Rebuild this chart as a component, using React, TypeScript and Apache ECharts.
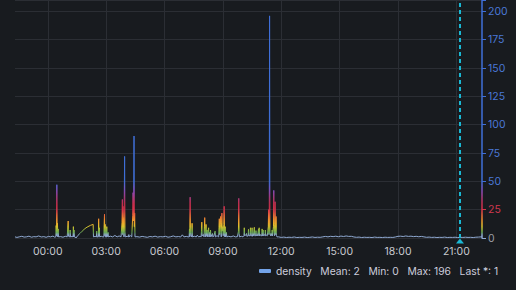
import React, { useEffect, useRef } from "react";
import * as echarts from "echarts";

// [minutes from midnight, density]
const nightSamples: [number, number][] = [
  [-101, 1], [-95, 0.5], [-88, 1], [-80, 1.5], [-73, 0.8], [-66, 1], [-58, 1.6], [-50, 0.7],
  [-43, 1.2], [-36, 1], [-28, 1.8], [-20, 0.9], [-12, 1.2], [-5, 0.6], [2, 1.4], [9, 1],
  [16, 1.7], [21, 0.8],
  [25, 1], [26, 11], [27, 2], [28, 47], [29, 4], [30, 13], [31, 1], [32, 8], [33, 1],
  [40, 1.2], [47, 0.7], [54, 1.5], [60, 1],
  [62, 1], [63, 15], [64, 1.5], [68, 1], [69, 7], [70, 1], [75, 1.3], [78, 1], [79, 10], [80, 1],
  [81, 7], [82, 1], [85, 0.8],
  [87, 0], [93, 2.3], [100, 4.2], [106, 6], [112, 7.6], [118, 9], [124, 10], [132, 11.2], [140, 12], [141, 1],
  [146, 1.4], [150, 1], [151, 6], [152, 1], [156, 1], [157, 17], [158, 2], [159, 9], [160, 1],
  [165, 1.5], [170, 1], [173, 1], [174, 12], [175, 21], [176, 2], [177, 12], [178, 1], [181, 1],
  [182, 10], [183, 1], [185, 1], [186, 5], [187, 1],
  [193, 1.6], [200, 1], [207, 2.2], [214, 1], [220, 1.8], [226, 1],
];

const earlyMorningSamples: [number, number][] = [
  [228, 1], [229, 14], [230, 34], [231, 3], [232, 28], [233, 5], [234, 18], [235, 1], [236, 1],
  [237, 72], [238, 6], [239, 1],
  [245, 1.5], [249, 1], [250, 3], [251, 1], [255, 2], [259, 1],
  [261, 1], [262, 20], [263, 40], [264, 15], [265, 38], [266, 90], [267, 10], [268, 22], [269, 1],
  [275, 1.2], [283, 0.8], [291, 1.4], [299, 1], [307, 0.6], [315, 1.3], [323, 1], [331, 1.6],
  [339, 0.8], [347, 1.2], [355, 1], [363, 1.5], [371, 0.7], [379, 1.1], [387, 1.8], [395, 1],
  [403, 1.3], [410, 0.9], [415, 2.8], [420, 1], [427, 1.4], [433, 1],
];

const morningSamples: [number, number][] = [
  [436, 1], [437, 8], [438, 1], [439, 36], [440, 3], [444, 1], [445, 13], [446, 1],
  [452, 1.5], [458, 1], [461, 2.5], [465, 1], [470, 1.4],
  [473, 1], [474, 6], [475, 14], [476, 2], [480, 3], [482, 1], [483, 10], [484, 18], [485, 4],
  [487, 1], [488, 12], [489, 2], [491, 7], [492, 1], [496, 9], [497, 1], [499, 5], [500, 1],
  [502, 7], [503, 1], [508, 4], [509, 1], [512, 1.5], [516, 6], [517, 1], [522, 2],
  [527, 1], [528, 9], [529, 17], [530, 3], [532, 12], [533, 19], [534, 5], [535, 1], [536, 14],
  [537, 22], [538, 6], [540, 10], [541, 2], [543, 12], [544, 28], [545, 4], [546, 1], [547, 10],
  [548, 1], [551, 5], [552, 1],
  [558, 1.5], [565, 1], [572, 1.8], [579, 1], [585, 1.2],
  [587, 1], [588, 6], [589, 35], [590, 4], [591, 1], [597, 1.5], [602, 1],
];

const lateMorningSamples: [number, number][] = [
  [605, 2], [606, 9], [607, 2], [612, 3], [613, 4], [614, 1.5], [618, 2], [619, 7.6], [620, 2],
  [624, 2], [625, 9], [626, 2], [629, 2], [630, 9], [631, 1.5], [633, 3], [634, 2], [636, 2],
  [637, 9.4], [638, 2], [641, 2], [642, 6.5], [643, 2], [646, 3], [647, 2], [649, 2], [650, 8],
  [651, 2], [652, 9], [653, 2], [656, 3], [657, 2], [660, 2], [661, 8], [662, 2], [664, 7],
  [665, 2], [668, 3], [670, 2], [671, 7], [672, 2], [675, 2.5], [677, 2],
  [679, 2], [680, 10], [681, 25], [682, 3], [683, 14], [684, 196], [685, 5], [687, 2], [689, 4],
  [691, 2], [692, 7], [693, 2], [695, 2], [696, 10], [697, 42], [698, 6], [699, 2], [700, 12],
  [701, 32], [702, 3], [703, 8], [704, 19], [705, 2], [707, 1],
];

const afternoonSamples: [number, number][] = [
  [712, 1], [720, 0.5], [728, 0.8], [736, 0.4], [744, 0.7], [752, 0.5], [760, 0.9], [768, 0.4],
  [776, 0.6], [784, 0.5], [792, 0.8], [800, 0.4], [808, 0.6], [816, 0.9], [824, 0.5], [832, 0.7],
  [840, 0.6], [848, 1], [856, 1.4], [864, 1], [872, 1.5], [880, 1.2], [888, 1.6], [896, 1.1],
  [904, 1.7], [912, 1.3], [920, 1.8], [928, 1.4], [936, 1.5], [944, 0.9], [952, 0.6], [960, 0.8],
  [968, 0.4], [976, 0.7], [984, 0.5], [992, 0.6], [1000, 0.4], [1008, 0.8], [1016, 0.5],
  [1024, 0.6], [1032, 0.4], [1040, 0.7], [1048, 0.5], [1056, 0.6], [1064, 0.5], [1072, 0.9],
];

const eveningSamples: [number, number][] = [
  [1080, 1.5], [1088, 1.6], [1096, 1.3], [1104, 1.8], [1112, 1.4], [1120, 1.6], [1128, 1.2],
  [1136, 1.5], [1144, 1.1], [1152, 1.4], [1160, 1], [1168, 0.6], [1176, 0.8], [1184, 0.5],
  [1192, 0.7], [1200, 0.4], [1208, 0.6], [1216, 0.5], [1224, 0.8], [1232, 0.4], [1240, 0.6],
  [1248, 0.5], [1256, 0.7], [1264, 0.4], [1272, 0.6], [1280, 0.5], [1288, 0.7], [1296, 0.5],
  [1304, 0.6], [1312, 0.4], [1320, 0.7], [1328, 0.8], [1336, 1], [1339, 1],
];

const windowStartMinute = -101;
const windowEndMinute = 1339;
const annotationMinute = 1271;
const xTickMinutes = [0, 180, 360, 540, 720, 900, 1080, 1260];
const yTicks = [0, 25, 50, 75, 100, 125, 150, 175, 200];
const yMax = 210;
const seriesName = "density";
const legendStats = ["Mean: 2", "Min: 0", "Max: 196", "Last *: 1"];

// colour scale sampled every 2.5 units from 0 to 50
const scaleColors = [
  "#8fa9d2", "#8fa9d2", "#6fb05a", "#9fbb3c", "#d8c42e", "#ecb02c", "#f29a2e",
  "#ef8131", "#ec6a3a", "#e24d43", "#d8344b", "#cf304c", "#c9304d", "#bd3363",
  "#b03a78", "#a24194", "#9448b0", "#7f53c0", "#6a5fd0", "#5468d4", "#3f6fd8",
];
const scaleMax = 50;

export default function App() {
  const ref = useRef<HTMLDivElement>(null);
  useEffect(() => {
    if (!ref.current) return;
    const chart = echarts.init(ref.current, undefined, { renderer: "svg" });
    const base = new Date(2024, 0, 15, 0, 0, 0).getTime();
    const toTime = (m: number) => base + m * 60000;
    const all = [
      ...nightSamples,
      ...earlyMorningSamples,
      ...morningSamples,
      ...lateMorningSamples,
      ...afternoonSamples,
      ...eveningSamples,
    ];
    const data = all.map(([m, v]) => [toTime(m), v]);
    const xTicks = xTickMinutes.map(toTime);

    const gridTop = 0;
    const gridBottomY = 238;
    const step = scaleMax / (scaleColors.length - 1);
    const axisGradient = new echarts.graphic.LinearGradient(
      0,
      gridBottomY,
      0,
      gridTop,
      [
        ...scaleColors.map((c, i) => ({ offset: (i * step) / yMax, color: c })),
        { offset: 1, color: scaleColors[scaleColors.length - 1] },
      ],
      true
    );

    const cyan = "#1ab8d4";
    const grid = "#2b2e34";
    const fs = 10.5;
    chart.setOption({
      animation: false,
      backgroundColor: "#181b1f",
      textStyle: { fontFamily: "Inter" },
      grid: { left: 15, right: 34, top: gridTop, bottom: 290 - gridBottomY, outerBoundsMode: "none" },
      legend: {
        left: 259,
        top: 266,
        padding: 0,
        itemWidth: 12,
        itemHeight: 4,
        icon: "roundRect",
        data: [{ name: seriesName, itemStyle: { color: "#73a3e8" } }],
        formatter: (n: string) => [n, ...legendStats].join("   "),
        textStyle: { color: "#ccccdc", fontSize: 10.3, fontFamily: "Inter" },
      },
      visualMap: {
        type: "continuous",
        show: false,
        seriesIndex: 0,
        dimension: 1,
        min: 0,
        max: scaleMax,
        inRange: { color: scaleColors },
        outOfRange: { color: scaleColors[scaleColors.length - 1] },
      },
      xAxis: {
        type: "time",
        min: toTime(windowStartMinute),
        max: toTime(windowEndMinute),
        axisLine: { show: false },
        axisTick: { show: false, customValues: xTicks },
        splitLine: { show: true, lineStyle: { color: grid, width: 1 } },
        axisLabel: {
          customValues: xTicks,
          formatter: "{HH}:{mm}",
          color: "#c7c9cf",
          fontSize: fs,
          fontFamily: "Inter",
          margin: 8,
          hideOverlap: false,
        },
      },
      yAxis: {
        type: "value",
        position: "right",
        min: 0,
        max: yMax,
        interval: 25,
        axisLine: { show: true, lineStyle: { color: axisGradient, width: 1.5 } },
        axisTick: { show: true, length: 4, lineStyle: { color: axisGradient } },
        splitLine: { show: true, lineStyle: { color: grid, width: 1 } },
        axisLabel: {
          margin: 6,
          fontSize: fs,
          fontFamily: "Inter",
          formatter: (v: number) => (yTicks.includes(v) ? String(v) : ""),
          color: (v: any) => {
            const n = Number(v);
            if (n >= 50) return "#4a78d6";
            if (n >= 25) return "#d0384f";
            return "#9a9ca3";
          },
        },
      },
      series: [
        {
          name: seriesName,
          type: "line",
          data,
          showSymbol: false,
          symbol: "none",
          lineStyle: { width: 1 },
          markLine: {
            silent: true,
            symbol: ["none", "none"],
            label: { show: false },
            lineStyle: { color: cyan, width: 2, type: [4, 3] },
            data: [{ xAxis: toTime(annotationMinute) }],
          },
          markPoint: {
            silent: true,
            label: { show: false },
            data: [
              {
                coord: [toTime(annotationMinute), 0],
                symbol: "triangle",
                symbolSize: [8, 5],
                symbolOffset: [0, 3],
                itemStyle: { color: cyan },
              },
            ],
          },
        },
      ],
    });
    return () => chart.dispose();
  }, []);
  return (
    <div
      ref={ref}
      style={{ position: "fixed", left: 0, top: 0, width: 516, height: 290, background: "#181b1f" }}
    />
  );
}
